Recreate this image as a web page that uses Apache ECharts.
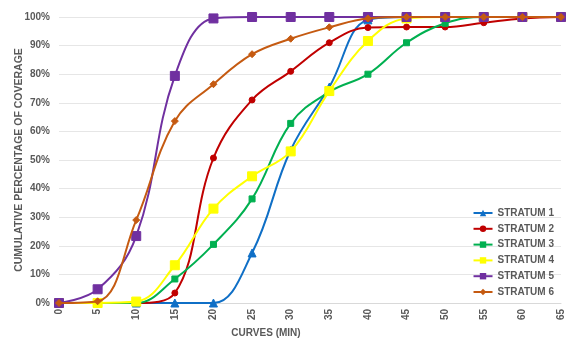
<!DOCTYPE html>
<html>
<head>
<meta charset="utf-8">
<script src="https://cdn.jsdelivr.net/npm/echarts@6/dist/echarts.min.js"></script>
<style>
  html, body { margin: 0; padding: 0; background: #fff; }
  #chart { width: 577px; height: 344px; }
</style>
</head>
<body>
<div id="chart"></div>
<script>
// Time in minutes (x positions of each observation)
const minutes = [0, 5, 10, 15, 20, 25, 30, 35, 40, 45, 50, 55, 60, 65];

// Cumulative coverage (%) per stratum
const stratum1 = [0, 0, 0, 0, 0, 17.5, 53.5, 75.5, 99, 100, 100, 100, 100, 100];
const stratum2 = [0, 0, 0, 3.5, 50.7, 71, 81, 91, 96.3, 96.5, 96.5, 98, 99.5, 100];
const stratum3 = [0, 0, 0, 8.4, 20.5, 36.4, 62.8, 73.8, 80, 91, 97.8, 100, 100, 100];
const stratum4 = [0, 0, 0.5, 13.2, 33, 44.3, 53, 74.1, 91.6, 99.5, 100, 100, 100, 100];
const stratum5 = [0, 4.8, 23.4, 79.4, 99.5, 100, 100, 100, 100, 100, 100, 100, 100, 100];
const stratum6 = [0, 0.6, 29, 63.6, 76.5, 87, 92.4, 96.4, 99.5, 100, 100, 100, 100, 100];

const seriesNames = ['STRATUM 1', 'STRATUM 2', 'STRATUM 3', 'STRATUM 4', 'STRATUM 5', 'STRATUM 6'];
const seriesValues = [stratum1, stratum2, stratum3, stratum4, stratum5, stratum6];
const colors = ['#0F6FC6', '#C00000', '#00B050', '#FFFF00', '#7030A0', '#C55A11'];
const symbols = ['triangle', 'circle', 'rect', 'rect', 'rect', 'diamond'];
const symbolSizes = [8, 6, 6, 9, 9, 7];

const textColor = '#595959';
const fontFamily = '"Liberation Sans", Arial, sans-serif';

const chart = echarts.init(document.getElementById('chart'), null, { renderer: 'canvas' });

chart.setOption({
  animation: false,
  textStyle: { fontFamily: fontFamily },
  grid: { left: 59, right: 16, top: 17, bottom: 41, containLabel: false },
  legend: {
    orient: 'vertical',
    right: 18,
    top: 203,
    itemWidth: 19,
    itemHeight: 8,
    itemGap: 5.8,
    textStyle: { color: textColor, fontSize: 10, fontWeight: 'bold', fontFamily: fontFamily },
    data: seriesNames
  },
  xAxis: {
    type: 'value',
    min: 0,
    max: 65,
    interval: 5,
    name: 'CURVES (MIN)',
    nameLocation: 'middle',
    nameGap: 24,
    nameTextStyle: { color: textColor, fontSize: 10, fontWeight: 'bold', padding: [0, 88, 0, 0] },
    axisLine: { show: true, lineStyle: { color: '#D9D9D9' } },
    axisTick: { show: false },
    splitLine: { show: false },
    axisLabel: { rotate: 90, color: textColor, fontSize: 10, fontWeight: 'bold', margin: 6 }
  },
  yAxis: {
    type: 'value',
    min: 0,
    max: 100,
    interval: 10,
    name: 'CUMULATIVE PERCENTAGE OF COVERAGE',
    nameLocation: 'middle',
    nameGap: 34,
    nameMoveOverlap: false,
    nameTextStyle: { color: textColor, fontSize: 10.5, fontWeight: 'bold' },
    axisLine: { show: false },
    axisTick: { show: false },
    splitLine: { show: true, lineStyle: { color: '#E6E6E6' } },
    axisLabel: { color: textColor, fontSize: 10, fontWeight: 'bold', formatter: '{value}%', margin: 9 }
  },
  series: seriesNames.map((name, i) => ({
    name: name,
    type: 'line',
    smooth: 0.4,
    data: minutes.map((m, j) => [m, seriesValues[i][j]]),
    symbol: symbols[i],
    symbolSize: symbolSizes[i],
    showAllSymbol: true,
    lineStyle: { width: 2, color: colors[i] },
    itemStyle: { color: colors[i], borderColor: colors[i] },
    emphasis: { disabled: true },
    z: 2 + i
  }))
});
</script>
</body>
</html>
